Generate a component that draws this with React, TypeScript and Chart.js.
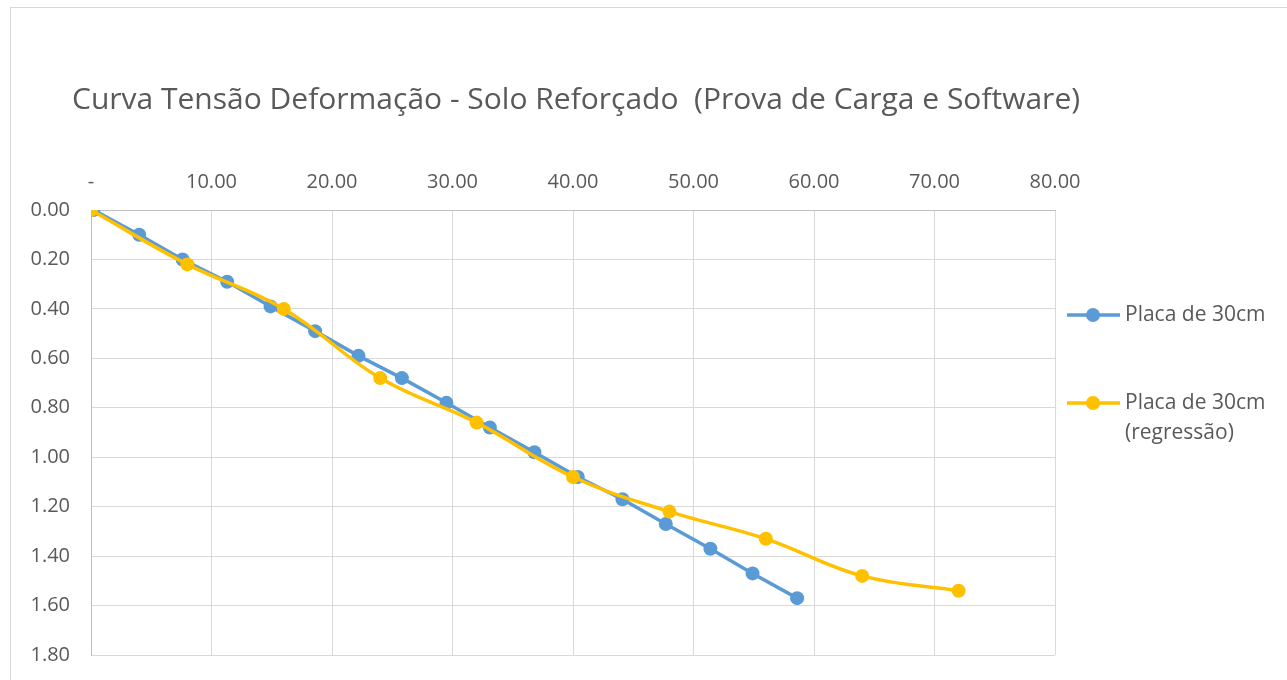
import { useEffect, useRef } from "react";
import { Chart, registerables } from "chart.js";
Chart.register(...registerables);

const TITLE = "Curva Tensão Deformação - Solo Reforçado  (Prova de Carga e Software)";

const placaX = [0.2, 4.0, 7.6, 11.3, 14.9, 18.6, 22.2, 25.8, 29.5, 33.1, 36.8, 40.4, 44.1, 47.7, 51.4, 54.9, 58.6];
const placaY = [0.0, 0.1, 0.2, 0.29, 0.39, 0.49, 0.59, 0.68, 0.78, 0.88, 0.98, 1.08, 1.17, 1.27, 1.37, 1.47, 1.57];

const regrX = [0, 8, 16, 24, 32, 40, 48, 56, 64, 72];
const regrY = [0.0, 0.22, 0.4, 0.68, 0.86, 1.08, 1.22, 1.33, 1.48, 1.54];

const SERIES_NAMES = ["Placa de 30cm", "Placa de 30cm (regressão)"];
const LEGEND_LINES = [["Placa de 30cm"], ["Placa de 30cm", "(regressão)"]];
const COLORS = ["#5B9BD5", "#FFC000"];

const X_MIN = 0, X_MAX = 80, X_STEP = 10;
const Y_MIN = 0, Y_MAX = 1.8, Y_STEP = 0.2;

const FONT = "'Open Sans', 'Noto Sans', sans-serif";
const TEXT = "#595959";

export default function App() {
  const ref = useRef<HTMLCanvasElement>(null);
  useEffect(() => {
    if (!ref.current) return;
    const decor = {
      id: "decor",
      afterDraw(chart: any) {
        const ctx = chart.ctx as CanvasRenderingContext2D;
        ctx.save();
        ctx.strokeStyle = "#d9d9d9";
        ctx.lineWidth = 1;
        ctx.strokeRect(10.5, 7.5, 1400, 800);
        ctx.fillStyle = TEXT;
        ctx.font = `30px ${FONT}`;
        ctx.textBaseline = "middle";
        ctx.textAlign = "left";
        ctx.fillText(TITLE, 72, 100);
        const ys = [315, 403];
        LEGEND_LINES.forEach((lines, i) => {
          const y = ys[i];
          ctx.strokeStyle = COLORS[i];
          ctx.lineWidth = 3.5;
          ctx.beginPath();
          ctx.moveTo(1067, y);
          ctx.lineTo(1120, y);
          ctx.stroke();
          ctx.fillStyle = COLORS[i];
          ctx.beginPath();
          ctx.arc(1093, y, 7, 0, Math.PI * 2);
          ctx.fill();
          ctx.fillStyle = TEXT;
          ctx.font = `21px ${FONT}`;
          lines.forEach((t, j) => ctx.fillText(t, 1125, y + j * 30));
        });
        ctx.restore();
      },
    };
    const chart = new Chart(ref.current, {
      type: "line",
      data: {
        datasets: [
          {
            label: SERIES_NAMES[0],
            data: placaX.map((x, i) => ({ x, y: placaY[i] })),
            borderColor: COLORS[0],
            backgroundColor: COLORS[0],
            borderWidth: 3.5,
            pointRadius: 7,
            pointBorderWidth: 0,
            tension: 0,
            order: 2,
          },
          {
            label: SERIES_NAMES[1],
            data: regrX.map((x, i) => ({ x, y: regrY[i] })),
            borderColor: COLORS[1],
            backgroundColor: COLORS[1],
            borderWidth: 3.5,
            pointRadius: 7,
            pointBorderWidth: 0,
            tension: 0.4,
            order: 1,
          },
        ],
      },
      options: {
        responsive: false,
        animation: false,
        layout: { padding: { left: 0, top: 170, right: 232, bottom: 25 } },
        plugins: { legend: { display: false }, tooltip: { enabled: false }, title: { display: false } },
        scales: {
          x: {
            type: "linear",
            position: "top",
            min: X_MIN,
            max: X_MAX,
            afterFit: (s: any) => { s.height = 40; s.paddingLeft = 0; s.paddingRight = 0; },
            ticks: {
              stepSize: X_STEP,
              color: TEXT,
              font: { family: FONT, size: 20 },
              padding: 16,
              callback: (v: any) => (Number(v) === 0 ? "-" : Number(v).toFixed(2)),
            },
            grid: { color: "#d9d9d9", drawTicks: false },
            border: { color: "#bfbfbf" },
          },
          y: {
            type: "linear",
            reverse: true,
            min: Y_MIN,
            max: Y_MAX,
            afterFit: (s: any) => { s.width = 91; s.paddingTop = 0; s.paddingBottom = 0; },
            ticks: {
              stepSize: Y_STEP,
              color: TEXT,
              font: { family: FONT, size: 20 },
              padding: 21,
              callback: (v: any) => Number(v).toFixed(2),
            },
            grid: { color: "#d9d9d9", drawTicks: false },
            border: { color: "#bfbfbf" },
          },
        },
      },
      plugins: [decor],
    });
    return () => chart.destroy();
  }, []);
  return (
    <div style={{ position: "fixed", left: 0, top: 0, width: 1287, height: 680, background: "#fff" }}>
      <canvas ref={ref} width={1287} height={680} />
    </div>
  );
}
